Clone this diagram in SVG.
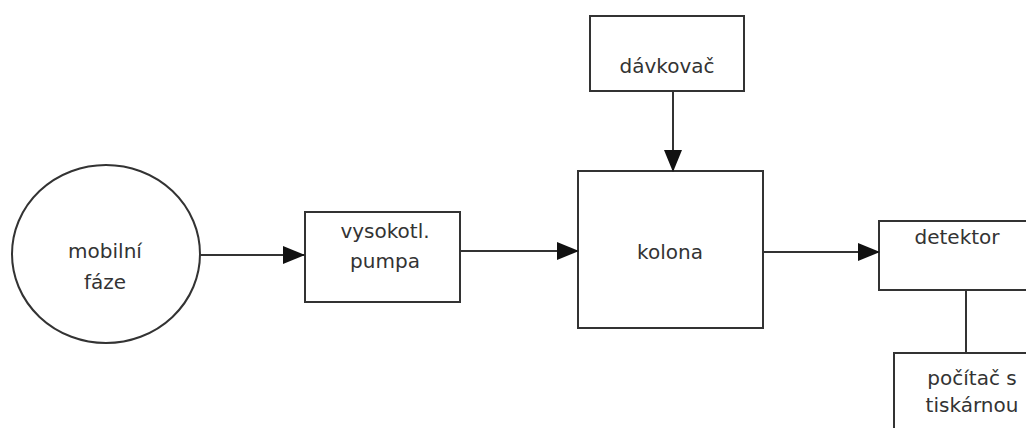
<svg xmlns="http://www.w3.org/2000/svg" width="1026" height="428" viewBox="0 0 1026 428">
<defs>
<style>
.s{fill:#fff;stroke:#333;stroke-width:2}
.t{font-family:"DejaVu Sans",sans-serif;font-size:20px;fill:#333;text-anchor:middle}
.c{stroke:#333;stroke-width:2;fill:none}
</style>
<marker id="a" viewBox="0 0 22 18" refX="22" refY="9" markerWidth="22" markerHeight="18" markerUnits="userSpaceOnUse" orient="auto">
<path d="M0,0L22,9L0,18Z" fill="#111"/>
</marker>
</defs>
<rect width="1026" height="428" fill="#fff"/>
<g id="mobilni-faze">
<ellipse class="s" cx="106" cy="254" rx="94" ry="89"/>
<text class="t" x="105" y="258">mobilní</text>
<text class="t" x="105" y="289">fáze</text>
</g>
<g id="pumpa">
<rect class="s" x="305" y="212" width="155" height="90"/>
<text class="t" x="385" y="238">vysokotl.</text>
<text class="t" x="385" y="268">pumpa</text>
</g>
<g id="davkovac">
<rect class="s" x="590" y="16" width="154" height="75"/>
<text class="t" x="667" y="73">dávkovač</text>
</g>
<g id="kolona">
<rect class="s" x="578" y="171" width="185" height="157"/>
<text class="t" x="670" y="259">kolona</text>
</g>
<g id="detektor">
<rect class="s" x="879" y="221" width="160" height="69"/>
<text class="t" x="957" y="244">detektor</text>
</g>
<g id="pocitac">
<rect class="s" x="894" y="353" width="150" height="90"/>
<text class="t" x="972" y="385">počítač s</text>
<text class="t" x="972" y="412">tiskárnou</text>
</g>
<g id="connectors">
<line class="c" x1="200" y1="255" x2="305" y2="255" marker-end="url(#a)"/>
<line class="c" x1="460" y1="251" x2="579" y2="251" marker-end="url(#a)"/>
<line class="c" x1="673" y1="91" x2="673" y2="172" marker-end="url(#a)"/>
<line class="c" x1="763" y1="252" x2="880" y2="252" marker-end="url(#a)"/>
<line class="c" x1="966" y1="290" x2="966" y2="353"/>
</g>
</svg>
